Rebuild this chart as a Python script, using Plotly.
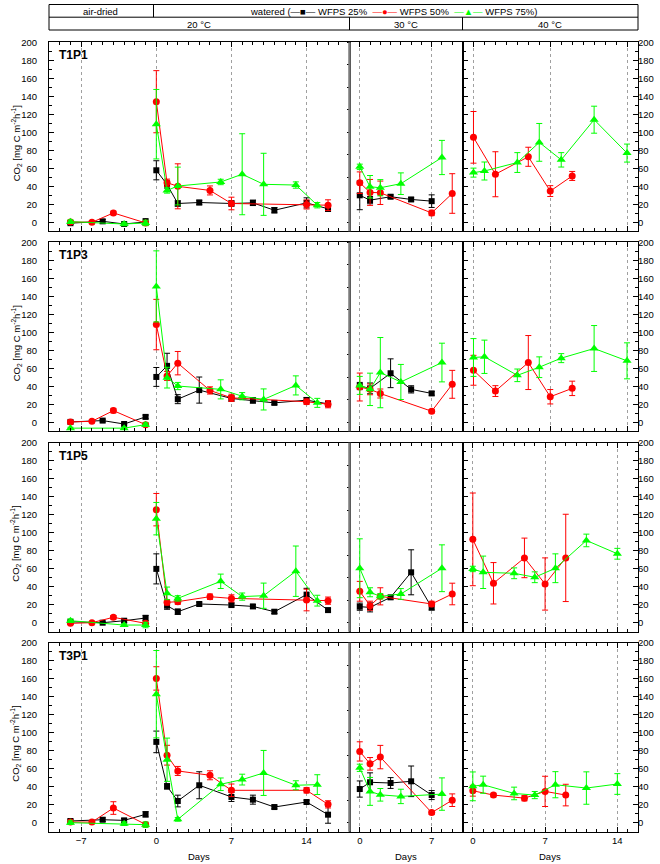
import plotly.graph_objects as go

W, H = 660, 864
FONT = "Liberation Sans, Arial, sans-serif"
BLACK, RED, GREEN = "#000000", "#ff0000", "#00ff00"

SITES = ["T1P1", "T1P3", "T1P5", "T3P1"]
TEMPS = ["20 °C", "30 °C", "40 °C"]
X_TICKS_20 = [-7, 0, 7, 14]
X_TICKS_30 = [0, 7]
X_TICKS_40 = [0, 7, 14]
Y_TICKS = [0, 20, 40, 60, 80, 100, 120, 140, 160, 180, 200]

# sampling days
DAYS_AIR_25 = [-8, -5, -3, -1]
DAYS_AIR_50 = [-8, -6, -4, -1]
DAYS_AIR_75 = [-8, -3, -1]
DAYS_20_25 = [0, 1, 2, 4, 7, 9, 11, 14, 16]
DAYS_20_50 = [0, 1, 2, 5, 7, 14, 16]
DAYS_20_75 = [0, 1, 2, 6, 8, 10, 13, 15]
DAYS_30_25 = [0, 1, 3, 5, 7]
DAYS_30_50 = [0, 1, 2, 7, 9]
DAYS_30_75 = [0, 1, 2, 4, 8]
DAYS_40_50 = [0, 2, 5, 7, 9]
DAYS_40_75 = [0, 1, 4, 6, 8, 11, 14]

# ---- T1P1 ----
T1P1_AIR_25 = [-1, 1.1, -1.9, 0.4];        T1P1_AIR_25_SD = [1.5, 2, 1.5, 3.7]
T1P1_AIR_50 = [0.4, 0, 10.4, -0.7];        T1P1_AIR_50_SD = [1, 1, 2, 2]
T1P1_AIR_75 = [0.7, -1.9, -0.7];           T1P1_AIR_75_SD = [2, 2, 3]
T1P1_20_25 = [57.8, 42, 20.9, 22, 20.9, 21.6, 13.4, 21.6, 15]
T1P1_20_25_SD = [10.6, 4, 3, 2.5, 3, 3, 3, 5.6, 3]
T1P1_20_50 = [134, 44, 40, 35.4, 20.9, 19.8, 19]
T1P1_20_50_SD = [34.5, 4, 25, 5, 7, 5, 6]
T1P1_20_75 = [109, 35.4, 40.3, 44.8, 53.4, 42.2, 41.4, 19]
T1P1_20_75_SD = [38.6, 3, 21, 3, 45, 34.5, 3.5, 3]
T1P1_30_25 = [30, 24.6, 28.4, 25.4, 23.5];   T1P1_30_25_SD = [16, 4, 2, 2, 7]
T1P1_30_50 = [44, 33.2, 32.8, 10.4, 32];     T1P1_30_50_SD = [12, 14.4, 13, 3, 22]
T1P1_30_75 = [61.6, 39.5, 38.4, 42.9, 72];   T1P1_30_75_SD = [3, 12.5, 9, 12, 19]
T1P1_40_50 = [94.4, 53.4, 72.8, 34.7, 51.5]; T1P1_40_50_SD = [28.7, 25, 10.6, 6, 5]
T1P1_40_75 = [55.2, 57, 66.4, 88.8, 69.4, 114, 76.9]
T1P1_40_75_SD = [5, 10, 11, 21, 8, 15, 10]

# ---- T1P3 ----
T1P3_AIR_25 = [0.4, 1.9, -1.9, 6];         T1P3_AIR_25_SD = [1, 1.5, 1, 2]
T1P3_AIR_50 = [0.4, 1.1, 13, -2.6];        T1P3_AIR_50_SD = [1, 1, 2.5, 2]
T1P3_AIR_75 = [-6.5, -6.5, -2.6];          T1P3_AIR_75_SD = [1, 1, 2]
T1P3_20_25 = [50.4, 62.7, 25.7, 35.8, 26.5, 24.3, 21.6, 24.6, 20.5]
T1P3_20_25_SD = [10.5, 14, 5, 14.5, 3, 3, 2, 3, 3]
T1P3_20_50 = [108.6, 51.5, 65.7, 35.4, 27.2, 22.8, 20.1]
T1P3_20_50_SD = [28, 5, 13, 4, 4, 3, 4]
T1P3_20_75 = [151, 49.6, 40.3, 36.6, 29, 25.4, 41, 21.6]
T1P3_20_75_SD = [39.5, 11.5, 4, 10.6, 4, 11.7, 10.6, 5]
T1P3_30_25 = [40.3, 37.7, 54.5, 36.6, 32.1]; T1P3_30_25_SD = [4, 6, 16, 4, 2]
T1P3_30_50 = [39.2, 36.6, 32, 12.3, 42.2];   T1P3_30_50_SD = [15.5, 6, 5, 2, 15.5]
T1P3_30_75 = [41, 36.6, 55.2, 44.8, 66.4];   T1P3_30_75_SD = [10, 18, 39, 19.5, 21.5]
T1P3_40_50 = [57.8, 34.7, 66.4, 28.4, 37.7]; T1P3_40_50_SD = [16.6, 6, 30, 8, 8]
T1P3_40_75 = [72, 72.8, 52.2, 61.2, 71.3, 82, 68.3]
T1P3_40_75_SD = [21, 18.5, 7, 11.5, 5, 25.5, 20]

# ---- T1P5 ----
T1P5_AIR_25 = [1, 0, 2.2, 5.2];            T1P5_AIR_25_SD = [1, 1, 2, 3]
T1P5_AIR_50 = [-0.7, 0, 6, -0.7];          T1P5_AIR_50_SD = [1, 1, 2, 1]
T1P5_AIR_75 = [2.2, -2.6, -2.6];           T1P5_AIR_75_SD = [2, 1, 3]
T1P5_20_25 = [59.8, 18.9, 12.2, 20.8, 19.6, 18.1, 12.2, 31.2, 14]
T1P5_20_25_SD = [16.7, 4, 3, 2, 2, 2, 2, 7, 2]
T1P5_20_50 = [125.6, 22.6, 23.4, 28.9, 27, 25.2, 24.5]
T1P5_20_50_SD = [18, 3, 3, 3, 4, 12, 4]
T1P5_20_75 = [115.6, 32.6, 27, 46, 29, 30, 57.2, 24.5]
T1P5_20_75_SD = [18, 7, 3, 8, 4, 14, 28, 6]
T1P5_30_25 = [17.8, 17, 28.2, 56, 17];       T1P5_30_25_SD = [4, 5, 2, 25, 3]
T1P5_30_50 = [34.9, 18.9, 29.3, 20.8, 31.9]; T1P5_30_50_SD = [11, 5, 9.5, 3, 12]
T1P5_30_75 = [60.5, 33.8, 29.3, 31.9, 60.5]; T1P5_30_75_SD = [32.7, 5, 3, 6, 26]
T1P5_40_50 = [92.6, 43.8, 72, 43, 72];       T1P5_40_50_SD = [51.5, 23, 22, 29, 48.5]
T1P5_40_75 = [59.7, 56, 54.9, 50.5, 60.5, 91.4, 76.6]
T1P5_40_75_SD = [3, 18, 6, 6, 16, 7, 6]

# ---- T3P1 ----
T3P1_AIR_25 = [1.9, 3.3, 2.6, 9.3];        T3P1_AIR_25_SD = [2, 2, 2, 3]
T3P1_AIR_50 = [0.7, 0.7, 16.3, -1.9];      T3P1_AIR_50_SD = [1, 1, 7, 2]
T3P1_AIR_75 = [0, -1.1, -2.2];             T3P1_AIR_75_SD = [2, 2, 3]
T3P1_20_25 = [89.8, 40.4, 24.1, 41.6, 28.6, 25.6, 17.4, 23, 8.9]
T3P1_20_25_SD = [12, 3, 6.5, 15, 5, 5, 2, 2, 9.5]
T3P1_20_50 = [160.3, 75, 57.5, 52.7, 36, 36, 20.4]
T3P1_20_50_SD = [13, 11, 5, 5, 7, 3, 4]
T3P1_20_75 = [142.8, 70, 3.7, 42.7, 47.9, 55.3, 41.6, 42.3]
T3P1_20_75_SD = [48.5, 24, 2, 7, 6, 25, 5, 11]
T3P1_30_25 = [37.4, 44.9, 44.1, 46, 30.7];   T3P1_30_25_SD = [9, 10.5, 6, 17, 5]
T3P1_30_50 = [79.2, 65.4, 72.9, 11.2, 25];   T3P1_30_50_SD = [10.7, 7, 13, 2, 7]
T3P1_30_75 = [61, 34.8, 31, 29.2, 31.8];     T3P1_30_75_SD = [4, 15.5, 7, 8, 18]
T3P1_40_50 = [35.5, 30.7, 27.3, 34.8, 30.7]; T3P1_40_50_SD = [6, 2, 3, 16.8, 12]
T3P1_40_75 = [40.4, 42.2, 32.5, 30.7, 42.2, 38.5, 43]
T3P1_40_75_SD = [16, 9.5, 7, 4, 14.5, 18, 11.5]

# ---------------- layout geometry (window pixels) ----------------
COL_PX = [(49, 349.5), (349.5, 462.5), (462.5, 638)]
ROW_TOP = [42.3, 242.3, 442.7, 642.7]
ROW_H = 189.0
X_RANGES = [[[-10, 18], [-1, 10], [-1, 15]],
            [[-10, 18], [-1, 10], [-1, 15]],
            [[-10, 18], [-1, 10], [-1, 16]],
            [[-10, 18], [-1, 10], [-1, 16]]]


def px(x):
    return x / W


def py(y):
    return 1 - y / H


STYLE = {
    25: dict(color=BLACK, symbol="square", size=6),
    50: dict(color=RED, symbol="circle", size=7),
    75: dict(color=GREEN, symbol="triangle-up", size=8),
}

g = globals()
fig = go.Figure()


def add_series(r, c, days, vals, sd, wfps):
    idx = r * 3 + c + 1
    st = STYLE[wfps]
    fig.add_trace(go.Scatter(
        x=days, y=vals, mode="lines+markers",
        xaxis="x" if idx == 1 else f"x{idx}",
        yaxis="y" if idx == 1 else f"y{idx}",
        line=dict(color=st["color"], width=1),
        marker=dict(color=st["color"], symbol=st["symbol"], size=st["size"], line=dict(width=0)),
        error_y=dict(type="data", array=sd, color=st["color"], thickness=1, width=3),
        showlegend=False, cliponaxis=False, hoverinfo="x+y"))


for r, site in enumerate(SITES):
    for wfps in (25, 50, 75):
        add_series(r, 0, g[f"DAYS_AIR_{wfps}"], g[f"{site}_AIR_{wfps}"], g[f"{site}_AIR_{wfps}_SD"], wfps)
        add_series(r, 0, g[f"DAYS_20_{wfps}"], g[f"{site}_20_{wfps}"], g[f"{site}_20_{wfps}_SD"], wfps)
        add_series(r, 1, g[f"DAYS_30_{wfps}"], g[f"{site}_30_{wfps}"], g[f"{site}_30_{wfps}_SD"], wfps)
        if f"{site}_40_{wfps}" in g:
            add_series(r, 2, g[f"DAYS_40_{wfps}"], g[f"{site}_40_{wfps}"], g[f"{site}_40_{wfps}_SD"], wfps)

tickfont = dict(family=FONT, size=9.5, color="#000")
layout = {}
XT = [X_TICKS_20, X_TICKS_30, X_TICKS_40]
for r in range(4):
    y0, y1 = ROW_TOP[r], ROW_TOP[r] + ROW_H
    for c in range(3):
        idx = r * 3 + c + 1
        xn = "xaxis" if idx == 1 else f"xaxis{idx}"
        yn = "yaxis" if idx == 1 else f"yaxis{idx}"
        xa = "x" if idx == 1 else f"x{idx}"
        ya = "y" if idx == 1 else f"y{idx}"
        layout[xn] = dict(
            domain=[px(COL_PX[c][0]), px(COL_PX[c][1])], anchor=ya,
            range=X_RANGES[r][c], tickvals=XT[c], ticks="inside", ticklen=5,
            tickcolor="#000", mirror="ticks", showline=True, linecolor="#000", linewidth=1,
            showgrid=True, gridcolor="#a0a0a0", griddash="dot", gridwidth=1,
            zeroline=False, showticklabels=(r == 3), tickfont=tickfont,
            minor=dict(dtick=1, tick0=0, ticks="inside", ticklen=3, tickcolor="#000", showgrid=False),
            automargin=False, fixedrange=True)
        ybase = dict(domain=[py(y1), py(y0)], anchor=xa, range=[-10, 200], zeroline=False,
                     showgrid=False, showline=True, linecolor="#000", linewidth=1,
                     automargin=False, fixedrange=True, tickfont=tickfont, tickcolor="#000")
        if c == 0:
            ybase.update(tickvals=Y_TICKS, ticks="inside", ticklen=5, mirror=True,
                         showticklabels=True, side="left", ticklabelstandoff=9,
                         minor=dict(dtick=10, tick0=0, ticks="inside", ticklen=3, tickcolor="#000"))
        elif c == 1:
            ybase.update(tick0=0, dtick=25, ticks="outside", ticklen=2, mirror=True,
                         showticklabels=False)
        else:
            ybase.update(tickvals=Y_TICKS, ticks="inside", ticklen=5, mirror="ticks",
                         showticklabels=True, side="right", ticklabelstandoff=-3,
                         minor=dict(dtick=10, tick0=0, ticks="inside", ticklen=3, tickcolor="#000"))
        layout[yn] = ybase

shapes = []
annotations = []
# gray divider between 20 and 30 degC panels
for r in range(4):
    shapes.append(dict(type="line", xref="paper", yref="paper", layer="above",
                       x0=px(349.5), x1=px(349.5), y0=py(ROW_TOP[r] + ROW_H), y1=py(ROW_TOP[r]),
                       line=dict(color="#7a7a7a", width=2.5)))
    annotations.append(dict(text=f"<b>{SITES[r]}</b>", xref="paper", yref="paper",
                            x=px(57), y=py(ROW_TOP[r] + 13), xanchor="left", yanchor="middle",
                            showarrow=False, font=dict(family=FONT, size=12, color="#000")))
    annotations.append(dict(text="CO<sub>2</sub> [mg C m<sup>-2</sup>h<sup>-1</sup>]",
                            xref="paper", yref="paper", x=px(16), y=py(ROW_TOP[r] + 101),
                            xanchor="center", yanchor="middle", textangle=-90, showarrow=False,
                            font=dict(family=FONT, size=9.5, color="#000")))

# header table
HT, HM, HB = 4.5, 17.2, 30.0
hl = dict(color="#000", width=1)
shapes.append(dict(type="rect", xref="paper", yref="paper", x0=px(49), x1=px(638),
                   y0=py(HB), y1=py(HT), line=hl))
shapes.append(dict(type="line", xref="paper", yref="paper", x0=px(49), x1=px(638),
                   y0=py(HM), y1=py(HM), line=hl))
shapes.append(dict(type="line", xref="paper", yref="paper", x0=px(153.5), x1=px(153.5),
                   y0=py(HM), y1=py(HT), line=hl))
for xv in (349.5, 462.5):
    shapes.append(dict(type="line", xref="paper", yref="paper", x0=px(xv), x1=px(xv),
                       y0=py(HB), y1=py(HM), line=hl))

hfont = dict(family=FONT, size=9.5, color="#000")
annotations.append(dict(text="air-dried", xref="paper", yref="paper", x=px(101), y=py(11),
                        xanchor="center", yanchor="middle", showarrow=False, font=hfont))
annotations.append(dict(
    text=('watered (<span style="color:#000000">—■—</span> WFPS 25%  '
          '<span style="color:#ff0000">—●—</span> WFPS 50%  '
          '<span style="color:#00ff00">—▲—</span> WFPS 75%)'),
    xref="paper", yref="paper", x=px(393), y=py(11), xanchor="center", yanchor="middle",
    showarrow=False, font=hfont))
for (a, b), t in zip(COL_PX, TEMPS):
    annotations.append(dict(text=t, xref="paper", yref="paper", x=px((a + b) / 2), y=py(24),
                            xanchor="center", yanchor="middle", showarrow=False, font=hfont))
# Days labels
for (a, b) in COL_PX:
    annotations.append(dict(text="Days", xref="paper", yref="paper", x=px((a + b) / 2), y=py(856.5),
                            xanchor="center", yanchor="middle", showarrow=False, font=hfont))

fig.update_layout(width=W, height=H, margin=dict(l=0, r=0, t=0, b=0),
                  paper_bgcolor="white", plot_bgcolor="white",
                  shapes=shapes, annotations=annotations, **layout)
# remove the browser's default 8 px body margin so the figure fills the window
fig.write_html("out.html", config={"displayModeBar": False},
               post_script="document.body.style.margin='0px';")
